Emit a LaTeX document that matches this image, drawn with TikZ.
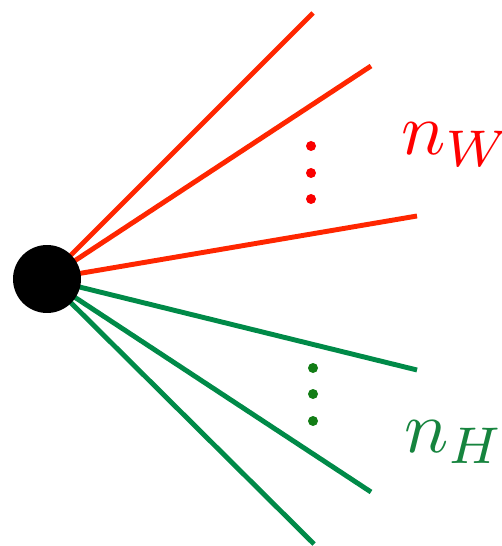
\documentclass[tikz,border=0pt]{standalone}
\usepackage{amsmath}
\usepackage{tikz}
\usetikzlibrary{positioning, calc}
\definecolor{wred}{RGB}{255,38,0}
\definecolor{dotred}{RGB}{250,0,0}
\definecolor{hgreen}{RGB}{0,138,72}
\definecolor{dotgreen}{RGB}{18,125,22}
\definecolor{labgreen}{RGB}{22,132,62}

\begin{document}
\begin{tikzpicture}[x=0.02cm, y=-0.02cm,
    wline/.style={wred, line width=2.8pt},
    hline/.style={hgreen, line width=2.8pt},
    vdot/.style={circle, inner sep=0pt, minimum size=0.2cm},
    lab/.style={inner sep=0pt, anchor=base west, scale=4.2}]
    \useasboundingbox (0,0) rectangle (502,546);

    % Vertex
    \coordinate (V) at (47,279);

    % W legs (red)
    \coordinate (w1) at (313,13);
    \coordinate (w2) at (371,66);
    \coordinate (w3) at (417,216);
    \draw[wline] (V) -- (w1);
    \draw[wline] (V) -- (w2);
    \draw[wline] (V) -- (w3);

    % H legs (green)
    \coordinate (h1) at (417,370);
    \coordinate (h2) at (371,492);
    \coordinate (h3) at (314,544);
    \draw[hline] (V) -- (h1);
    \draw[hline] (V) -- (h2);
    \draw[hline] (V) -- (h3);

    % Blob
    \node[circle, fill=black, inner sep=0pt, minimum size=1.36cm] (blob) at (V) {};

    % Dots
    \foreach \y/\n in {146/1, 173/2, 199/3}
      \node[vdot, fill=dotred] (rd\n) at (311,\y) {};
    \foreach \y/\n in {368/1, 394/2, 421/3}
      \node[vdot, fill=dotgreen] (gd\n) at (313,\y) {};

    % Labels
    \node[lab, red] (nW) at (400,155) {$n_W$};
    \node[lab, labgreen] (nH) at (403,452) {$n_H$};
  \end{tikzpicture}
\end{document}
